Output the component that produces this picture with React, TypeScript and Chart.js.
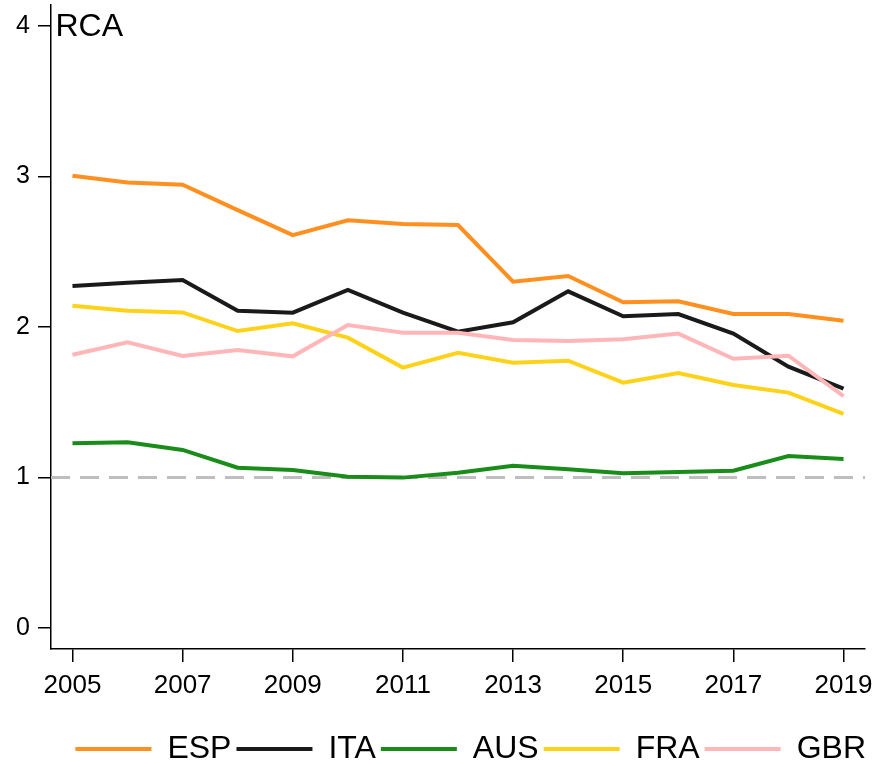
import React, { useEffect, useRef } from "react";
import { Chart, registerables } from "chart.js";

Chart.register(...registerables);

const YEARS = [2005, 2006, 2007, 2008, 2009, 2010, 2011, 2012, 2013, 2014, 2015, 2016, 2017, 2018, 2019];
const ESP = [3.005, 2.96, 2.946, 2.777, 2.611, 2.709, 2.684, 2.678, 2.301, 2.339, 2.164, 2.171, 2.086, 2.086, 2.042];
const ITA = [2.272, 2.294, 2.312, 2.108, 2.095, 2.246, 2.095, 1.969, 2.031, 2.237, 2.071, 2.086, 1.956, 1.736, 1.59];
const AUS = [1.227, 1.234, 1.183, 1.065, 1.05, 1.005, 0.999, 1.032, 1.078, 1.054, 1.028, 1.037, 1.045, 1.143, 1.123];
const FRA = [2.142, 2.108, 2.097, 1.973, 2.024, 1.929, 1.73, 1.829, 1.763, 1.776, 1.63, 1.694, 1.615, 1.564, 1.422];
const GBR = [1.816, 1.898, 1.807, 1.847, 1.805, 2.013, 1.962, 1.962, 1.914, 1.907, 1.918, 1.956, 1.789, 1.809, 1.541];

const SERIES_NAMES = ["ESP", "ITA", "AUS", "FRA", "GBR"];
const SERIES_VALUES = [ESP, ITA, AUS, FRA, GBR];
const SERIES_COLORS = ["#FF8F1F", "#1A1A1A", "#1A8C1A", "#FFD21A", "#FFB6B9"];

const X_TICKS = [2005, 2007, 2009, 2011, 2013, 2015, 2017, 2019];
const Y_TICKS = [0, 1, 2, 3, 4];
const X_MIN = 2004.61;
const X_MAX = 2019.39;
const Y_MIN = -0.14;
const Y_MAX = 4.14;
const REF_VALUE = 1;
const Y_TITLE = "RCA";

const FONT = "'Liberation Sans', Arial, Helvetica, sans-serif";

export default function App() {
  const ref = useRef<HTMLCanvasElement | null>(null);

  useEffect(() => {
    const canvas = ref.current;
    if (!canvas) return;

    const datasets: any[] = SERIES_NAMES.map((name, i) => ({
      label: name,
      data: YEARS.map((yr, j) => ({ x: yr, y: SERIES_VALUES[i][j] })),
      borderColor: SERIES_COLORS[i],
      backgroundColor: SERIES_COLORS[i],
      borderWidth: 4,
      pointRadius: 0,
      tension: 0,
      order: SERIES_NAMES.length - i,
    }));
    datasets.push({
      label: "__ref",
      data: [
        { x: X_MIN, y: REF_VALUE },
        { x: X_MAX, y: REF_VALUE },
      ],
      borderColor: "#BEBEBE",
      backgroundColor: "#BEBEBE",
      borderWidth: 3,
      borderDash: [19, 10],
      pointRadius: 0,
      order: 100,
    });

    const titlePlugin = {
      id: "yTitleTop",
      afterDraw(chart: any) {
        const { ctx, chartArea } = chart;
        ctx.save();
        ctx.font = `32px ${FONT}`;
        ctx.fillStyle = "#000";
        ctx.textAlign = "left";
        ctx.textBaseline = "alphabetic";
        ctx.fillText(Y_TITLE, chartArea.left + 4.5, chartArea.top + 31);
        ctx.restore();
      },
    };

    const chart = new Chart(canvas, {
      type: "line",
      data: { datasets },
      plugins: [titlePlugin],
      options: {
        animation: false,
        responsive: false,
        maintainAspectRatio: false,
        layout: { padding: { left: 0, right: 5, top: 5, bottom: -8 } },
        plugins: {
          tooltip: { enabled: false },
          legend: {
            display: true,
            position: "bottom",
            align: "end",
            labels: {
              boxWidth: 76,
              boxHeight: 4,
              padding: 5,
              color: "#000",
              font: { size: 32, family: FONT },
              filter: (item: any) => item.text !== "__ref",
              sort: (a: any, b: any) => a.datasetIndex - b.datasetIndex,
              generateLabels: (chart: any) =>
                (Chart.defaults.plugins.legend.labels.generateLabels as any)(chart).map((it: any) => ({
                  ...it,
                  fillStyle: it.strokeStyle,
                  lineWidth: 0,
                  lineDash: [],
                })),
            },
          },
        },
        scales: {
          x: {
            type: "linear",
            min: X_MIN,
            max: X_MAX,
            afterBuildTicks: (scale: any) => {
              scale.ticks = X_TICKS.map((v) => ({ value: v }));
            },
            afterFit: (scale: any) => {
              scale.height = 79;
              scale.paddingLeft = 0;
              scale.paddingRight = 11;
            },
            grid: {
              drawOnChartArea: false,
              drawTicks: true,
              tickLength: 13,
              color: "#000",
              lineWidth: 1.5,
            },
            border: { display: true, color: "#000", width: 1.5 },
            ticks: {
              autoSkip: false,
              maxRotation: 0,
              padding: 8,
              color: "#000",
              font: { size: 26, family: FONT },
              callback: (v: any) => String(v),
            },
          },
          y: {
            type: "linear",
            min: Y_MIN,
            max: Y_MAX,
            afterBuildTicks: (scale: any) => {
              scale.ticks = Y_TICKS.map((v) => ({ value: v }));
            },
            afterFit: (scale: any) => {
              scale.width = 51;
              scale.paddingTop = 0;
              scale.paddingBottom = 0;
            },
            grid: {
              drawOnChartArea: false,
              drawTicks: true,
              tickLength: 13,
              color: "#000",
              lineWidth: 1.5,
            },
            border: { display: true, color: "#000", width: 1.5 },
            ticks: {
              autoSkip: false,
              padding: 8,
              color: "#000",
              font: { size: 25, family: FONT },
              callback: (v: any) => String(v),
            },
          },
        },
      },
    });

    return () => chart.destroy();
  }, []);

  return (
    <div style={{ position: "fixed", left: 0, top: 0, width: 876, height: 767, background: "#fff" }}>
      <canvas ref={ref} width={876} height={767} style={{ display: "block", width: 876, height: 767 }} />
    </div>
  );
}
